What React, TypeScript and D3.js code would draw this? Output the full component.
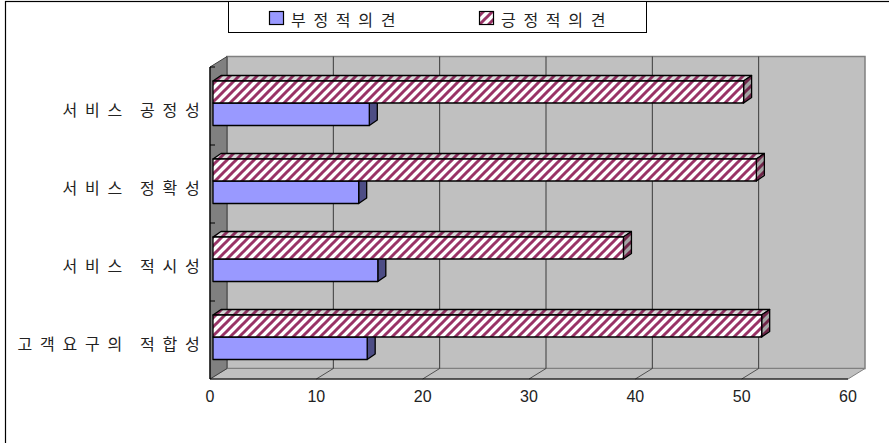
import React from 'react';
import * as d3 from 'd3';

// Survey opinion shares per service quality item
const categories = ['서비스 공정성', '서비스 정확성', '서비스 적시성', '고객요구의 적합성'];
const negativeValues = [14.7, 13.7, 15.5, 14.5];
const positiveValues = [49.9, 51.1, 38.6, 51.6];
const seriesNames = ['부정적의견', '긍정적의견'];
const tickValues = [0, 10, 20, 30, 40, 50, 60];

const W = 889;
const H = 443;

// oblique 3D projection offsets
const WALL_DX = 17;
const WALL_DY = 10.5;
const BAR_DX = 8;
const BAR_DY = 5.5;
const BAR_SHIFT = 3;

const KR = '"Noto Sans CJK KR", "Noto Sans", sans-serif';
const NUM = '"Liberation Sans", Arial, sans-serif';

const HATCH = 'M-2.25,2.25 l4.5,-4.5 M0,9 l9,-9 M6.75,11.25 l4.5,-4.5';

export default function App() {
  const x = d3.scaleLinear().domain([0, 60]).range([210, 848]);
  const y = d3.scaleBand<string>().domain(categories).range([67, 379]);
  const top = y.range()[0];
  const bottom = y.range()[1];
  const x0 = x(0);
  const x60 = x(60);

  const backTop = top - WALL_DY;
  const backBottom = bottom - WALL_DY;

  const poly = (pts: [number, number][]) => pts.map((p) => p.join(',')).join(' ');

  const boundaries = categories.map((c) => y(c) as number).concat([bottom]);

  return (
    <svg
      width={W}
      height={H}
      style={{ position: 'absolute', left: 0, top: 0, display: 'block', background: '#fff' }}
    >
      <defs>
        <pattern id="hatchFront" patternUnits="userSpaceOnUse" width="9" height="9">
          <rect width="9" height="9" fill="#ffffff" />
          <path d={HATCH} stroke="#993366" strokeWidth="3" />
        </pattern>
        <pattern id="hatchTop" patternUnits="userSpaceOnUse" width="9" height="9">
          <rect width="9" height="9" fill="#d6d6d6" />
          <path d={HATCH} stroke="#8a2d5c" strokeWidth="3" />
        </pattern>
        <pattern id="hatchSide" patternUnits="userSpaceOnUse" width="9" height="9">
          <rect width="9" height="9" fill="#a4a4a4" />
          <path d={HATCH} stroke="#6e2548" strokeWidth="3" />
        </pattern>
      </defs>

      {/* chart frame */}
      <rect x={5.5} y={1.5} width={W + 20} height={H + 20} fill="#fff" stroke="#000" strokeWidth={1.2} />

      {/* legend */}
      <rect x={228.5} y={1.5} width={418} height={31} fill="#fff" stroke="#000" strokeWidth={1} />
      <rect x={269.5} y={11.5} width={14} height={13} fill="#9999ff" stroke="#000" strokeWidth={1.2} />
      <text
        x={291}
        y={18.5}
        dominantBaseline="central"
        fontFamily={KR}
        fontSize={16}
        letterSpacing={7.7}
        fill="#222"
      >
        {seriesNames[0]}
      </text>
      <rect x={479.5} y={11.5} width={14} height={13} fill="url(#hatchFront)" stroke="#000" strokeWidth={1.2} />
      <text
        x={501}
        y={18.5}
        dominantBaseline="central"
        fontFamily={KR}
        fontSize={16}
        letterSpacing={7.7}
        fill="#222"
      >
        {seriesNames[1]}
      </text>

      {/* back wall */}
      <rect
        x={x0 + WALL_DX}
        y={backTop}
        width={x60 - x0}
        height={backBottom - backTop}
        fill="#c0c0c0"
        stroke="#808080"
        strokeWidth={1.5}
      />
      {/* floor */}
      <polygon
        points={poly([
          [x0, bottom],
          [x60, bottom],
          [x60 + WALL_DX, backBottom],
          [x0 + WALL_DX, backBottom],
        ])}
        fill="#c0c0c0"
        stroke="#808080"
        strokeWidth={1}
      />
      {/* side wall */}
      <polygon
        points={poly([
          [x0, top],
          [x0 + WALL_DX, backTop],
          [x0 + WALL_DX, backBottom],
          [x0, bottom],
        ])}
        fill="#808080"
        stroke="#404040"
        strokeWidth={1}
      />

      {/* gridlines on back wall and floor */}
      {tickValues
        .filter((t) => t > 0 && t < 60)
        .map((t) => (
          <g key={`g${t}`}>
            <line
              x1={x(t) + WALL_DX}
              x2={x(t) + WALL_DX}
              y1={backTop}
              y2={backBottom}
              stroke="#3a3a3a"
              strokeWidth={1}
            />
            <line
              x1={x(t)}
              y1={bottom}
              x2={x(t) + WALL_DX}
              y2={backBottom}
              stroke="#333"
              strokeWidth={0.8}
            />
          </g>
        ))}

      {/* bars */}
      {categories.map((c, i) => {
        const yTop = (y(c) as number) + 14;
        const yMid = yTop + 22;
        const yBot = yMid + 22.5;
        const bx0 = x(0) + BAR_SHIFT;
        const nx = x(negativeValues[i]) + BAR_SHIFT;
        const px = x(positiveValues[i]) + BAR_SHIFT;
        return (
          <g key={c} stroke="#000" strokeWidth={1.3} strokeLinejoin="round">
            <polygon
              points={poly([
                [nx, yMid],
                [nx + BAR_DX, yMid - BAR_DY],
                [nx + BAR_DX, yBot - BAR_DY],
                [nx, yBot],
              ])}
              fill="#4d4d85"
            />
            <rect x={bx0} y={yMid} width={nx - bx0} height={yBot - yMid} fill="#9999ff" />
            <polygon
              points={poly([
                [bx0, yTop],
                [bx0 + BAR_DX, yTop - BAR_DY],
                [px + BAR_DX, yTop - BAR_DY],
                [px, yTop],
              ])}
              fill="url(#hatchTop)"
            />
            <polygon
              points={poly([
                [px, yTop],
                [px + BAR_DX, yTop - BAR_DY],
                [px + BAR_DX, yMid - BAR_DY],
                [px, yMid],
              ])}
              fill="url(#hatchSide)"
            />
            <rect x={bx0} y={yTop} width={px - bx0} height={yMid - yTop} fill="url(#hatchFront)" />
          </g>
        );
      })}

      {/* axes */}
      <line x1={x0} x2={x0} y1={top} y2={bottom} stroke="#000" strokeWidth={1.2} />
      <line x1={x0} x2={x60} y1={bottom} y2={bottom} stroke="#000" strokeWidth={1.2} />
      {boundaries.slice(0, -1).map((b, i) => (
        <line key={`t${i}`} x1={x0} x2={x0 + 5} y1={b} y2={b} stroke="#000" strokeWidth={1} />
      ))}

      {/* value axis labels */}
      {tickValues.map((t) => (
        <text
          key={`l${t}`}
          x={x(t)}
          y={402}
          textAnchor="middle"
          fontFamily={NUM}
          fontSize={16}
          fill="#222"
        >
          {t}
        </text>
      ))}

      {/* category labels */}
      {categories.map((c) => (
        <text
          key={`c${c}`}
          x={207.5}
          y={(y(c) as number) + y.bandwidth() / 2 + 2.5}
          textAnchor="end"
          dominantBaseline="central"
          fontFamily={KR}
          fontSize={16}
          letterSpacing={7.8}
          wordSpacing={-1.5}
          fill="#222"
        >
          {c}
        </text>
      ))}
    </svg>
  );
}
